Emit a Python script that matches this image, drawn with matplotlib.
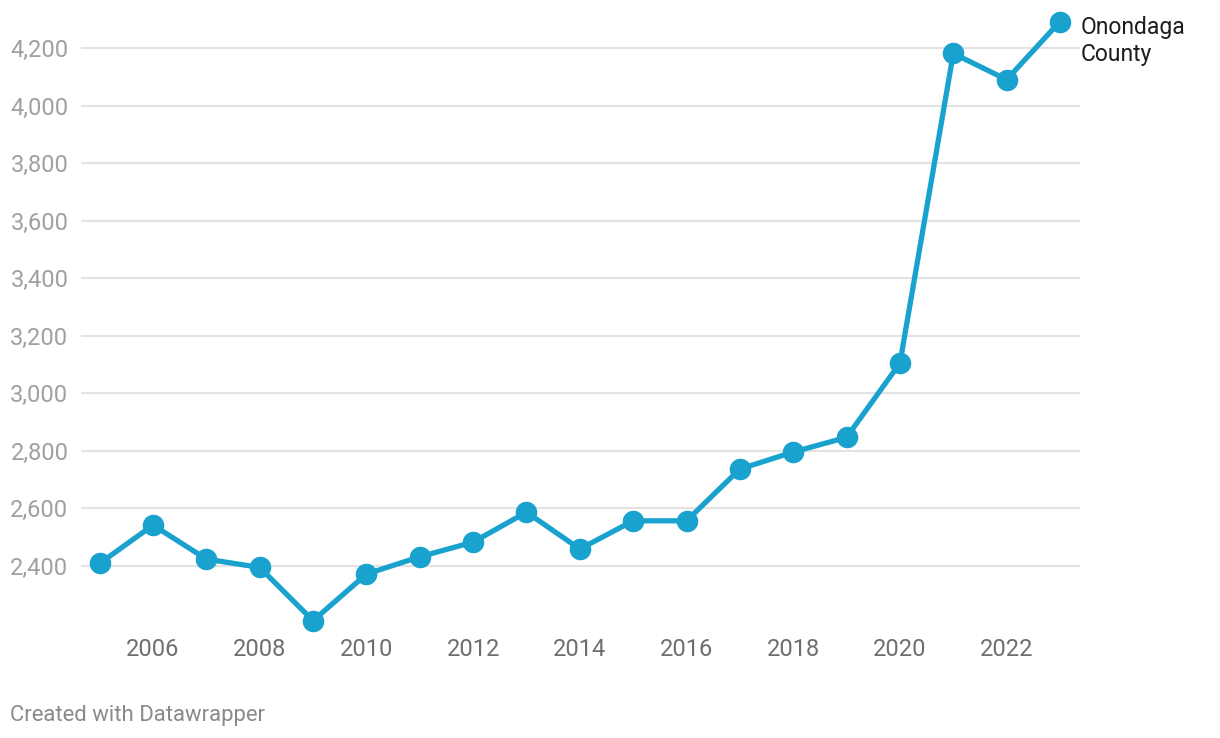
import matplotlib.pyplot as plt
from matplotlib.ticker import FuncFormatter

plt.rcParams["font.family"] = ["Roboto", "DejaVu Sans"]

years = list(range(2005, 2024))
values = [2409, 2542, 2424, 2395, 2210, 2372, 2432, 2483, 2587, 2459,
          2557, 2557, 2737, 2796, 2847, 3105, 4181, 4090, 4292]
y_ticks = [2400, 2600, 2800, 3000, 3200, 3400, 3600, 3800, 4000, 4200]
x_ticks = [2006, 2008, 2010, 2012, 2014, 2016, 2018, 2020, 2022]
series_label = "Onondaga\nCounty"

color = "#1aa2cf"

fig = plt.figure(figsize=(12.2, 7.38), dpi=100)
ax = fig.add_axes([81 / 1220, 1 - 630 / 738, 999 / 1220, 620 / 738])

ax.plot(years, values, color=color, lw=3.8, marker="o", ms=14.5,
        solid_joinstyle="round", clip_on=False, zorder=3)

ax.set_xlim(2004.65, 2023.375)
ax.set_ylim(2177.6, 4332)

for v in y_ticks:
    ax.axhline(v, color="#e3e3e3", lw=1.5, zorder=1)

ax.set_yticks(y_ticks)
ax.yaxis.set_major_formatter(FuncFormatter(lambda v, p: f"{int(v):,}"))
ax.set_xticks(x_ticks)
ax.tick_params(axis="y", length=0, pad=9, labelsize=17, labelcolor="#a0a0a0")
ax.tick_params(axis="x", length=0, pad=6, labelsize=17, labelcolor="#6e6e6e")
for s in ax.spines.values():
    s.set_visible(False)

ax.annotate(series_label, (years[-1], values[-1]), xytext=(15, -14),
            textcoords="offset points", ha="left", va="center",
            fontsize=16.5, color="#1d1d1d", linespacing=1.2,
            annotation_clip=False)

fig.text(10 / 1220, 1 - 715 / 738, "Created with Datawrapper",
         fontsize=15.9, color="#8a8a8a", ha="left", va="center")

fig.savefig("out.png", dpi=100)
